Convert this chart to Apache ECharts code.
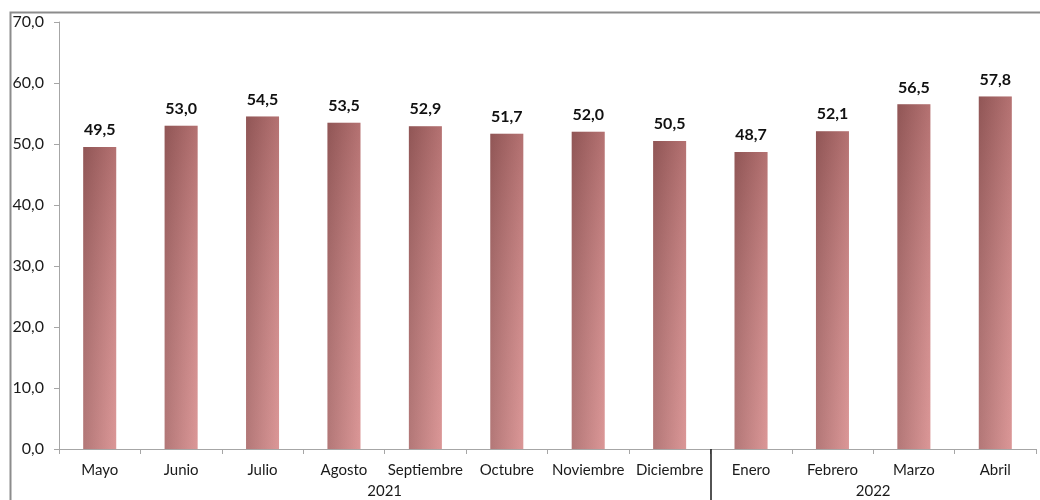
<!DOCTYPE html>
<html>
<head>
<meta charset="utf-8">
<script src="https://cdn.jsdelivr.net/npm/echarts@6/dist/echarts.min.js"></script>
<style>
  html, body { margin: 0; padding: 0; background: #fff; }
  #chart { width: 1040px; height: 500px; }
</style>
</head>
<body>
<div id="chart"></div>
<script>
var months = ['Mayo', 'Junio', 'Julio', 'Agosto', 'Septiembre', 'Octubre', 'Noviembre', 'Diciembre', 'Enero', 'Febrero', 'Marzo', 'Abril']
var values = [49.5, 53.0, 54.5, 53.5, 52.9, 51.7, 52.0, 50.5, 48.7, 52.1, 56.5, 57.8]
// year groups: label position (in category index units) and text
var yearPos = [3.5, 9.5]
var yearText = ['2021', '2022']
var yearSplit = [7.5]

var font = 'Lato, "Liberation Sans", sans-serif'
function comma (v) { return Number(v).toFixed(1).replace('.', ',') }

var dom = echarts.init(document.getElementById('chart'))
var option = {
  backgroundColor: '#fff',
  animation: false,
  textStyle: { fontFamily: font },
  graphic: [{
    type: 'rect',
    left: 8, top: 10,
    shape: { width: 1200, height: 700 },
    style: { fill: 'none', stroke: '#8c8c8c', lineWidth: 2 },
    silent: true
  }],
  grid: { left: 59, right: 4, top: 22, bottom: 51 },
  xAxis: [
    {
      type: 'category',
      data: months,
      axisLine: { lineStyle: { color: '#a6a6a6' } },
      axisTick: { show: true, length: 5, lineStyle: { color: '#a6a6a6' } },
      axisLabel: { color: '#1a1a1a', fontSize: 15, margin: 14, interval: 0, fontFamily: font }
    },
    {
      type: 'value',
      position: 'bottom',
      min: -0.5,
      max: 11.5,
      axisLine: { show: false },
      splitLine: { show: false },
      axisTick: {
        show: true, length: 52, customValues: yearSplit,
        lineStyle: { color: '#1a1a1a', width: 1.5 }
      },
      axisLabel: {
        show: true, customValues: yearPos, margin: 35,
        color: '#1a1a1a', fontSize: 15, fontFamily: font,
        formatter: function (v) { return yearText[yearPos.indexOf(v)] }
      }
    }
  ],
  yAxis: {
    type: 'value',
    min: 0,
    max: 70,
    interval: 10,
    axisLine: { show: true, onZero: false, lineStyle: { color: '#a6a6a6' } },
    axisTick: { show: true, length: 5, lineStyle: { color: '#a6a6a6' } },
    splitLine: { show: false },
    axisLabel: { color: '#1a1a1a', fontSize: 16, margin: 15, formatter: comma }
  },
  series: [
    {
      type: 'bar',
      data: values,
      barWidth: 33,
      itemStyle: {
        color: new echarts.graphic.LinearGradient(0, 0, 1, 0, [
          { offset: 0, color: '#a86868' },
          { offset: 1, color: '#d68c8c' }
        ])
      },
      label: {
        show: true,
        position: 'top',
        distance: 9,
        color: '#111',
        fontWeight: 'bold',
        fontSize: 16,
        formatter: function (p) { return comma(p.value) }
      }
    },
    {
      // vertical shading overlay: darker at the top of each bar
      type: 'bar',
      data: values,
      barWidth: 33,
      barGap: '-100%',
      silent: true,
      itemStyle: {
        color: new echarts.graphic.LinearGradient(0, 0, 0, 1, [
          { offset: 0, color: 'rgba(60,20,20,0.22)' },
          { offset: 1, color: 'rgba(255,230,230,0.12)' }
        ])
      }
    }
  ]
}
dom.setOption(option)
</script>
</body>
</html>
